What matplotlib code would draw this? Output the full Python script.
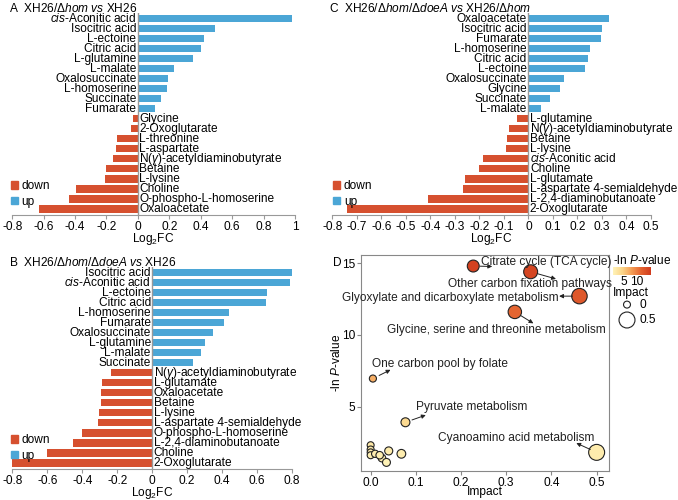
import matplotlib
matplotlib.use('Agg')
import matplotlib.pyplot as plt
from matplotlib.colors import LinearSegmentedColormap, Normalize
from matplotlib.patches import Patch
import matplotlib.cm as cm

plt.rcParams['font.family'] = ['Liberation Sans', 'DejaVu Sans']
plt.rcParams['mathtext.fontset'] = 'custom'
plt.rcParams['mathtext.rm'] = 'Liberation Sans'
plt.rcParams['mathtext.it'] = 'Liberation Sans:italic'

CIS = r'$\it{cis}$-Aconitic acid'
NG = r'N($\gamma$)-acetyldiaminobutyrate'

# panel A: XH26/dhom vs XH26
a_up_names = [CIS, 'Isocitric acid', 'L-ectoine', 'Citric acid', 'L-glutamine', 'L-malate',
              'Oxalosuccinate', 'L-homoserine', 'Succinate', 'Fumarate']
a_up_vals = [0.98, 0.49, 0.42, 0.40, 0.35, 0.23, 0.195, 0.185, 0.145, 0.11]
a_dn_names = ['Glycine', '2-Oxoglutarate', 'L-threonine', 'L-aspartate', NG, 'Betaine',
              'L-lysine', 'Choline', 'O-phospho-L-homoserine', 'Oxaloacetate']
a_dn_vals = [-0.034, -0.045, -0.13, -0.14, -0.16, -0.205, -0.21, -0.395, -0.44, -0.63]

# panel B: XH26/dhom/ddoeA vs XH26
b_up_names = ['Isocitric acid', CIS, 'L-ectoine', 'Citric acid', 'L-homoserine', 'Fumarate',
              'Oxalosuccinate', 'L-glutamine', 'L-malate', 'Succinate']
b_up_vals = [0.80, 0.79, 0.655, 0.65, 0.44, 0.41, 0.345, 0.30, 0.28, 0.235]
b_dn_names = [NG, 'L-glutamate', 'Oxaloacetate', 'Betaine', 'L-lysine', 'L-aspartate 4-semialdehyde',
              'O-phospho-L-homoserine', 'L-2,4-diaminobutanoate', 'Choline', '2-Oxoglutarate']
b_dn_vals = [-0.237, -0.285, -0.29, -0.295, -0.305, -0.31, -0.40, -0.45, -0.60, -0.80]

# panel C: XH26/dhom/ddoeA vs XH26/dhom
c_up_names = ['Oxaloacetate', 'Isocitric acid', 'Fumarate', 'L-homoserine', 'Citric acid', 'L-ectoine',
              'Oxalosuccinate', 'Glycine', 'Succinate', 'L-malate']
c_up_vals = [0.33, 0.30, 0.295, 0.25, 0.245, 0.23, 0.145, 0.13, 0.087, 0.053]
c_dn_names = ['L-glutamine', NG, 'Betaine', 'L-lysine', CIS, 'Choline', 'L-glutamate',
              'L-aspartate 4-semialdehyde', 'L-2,4-diaminobutanoate', '2-Oxoglutarate']
c_dn_vals = [-0.047, -0.077, -0.088, -0.092, -0.185, -0.203, -0.258, -0.266, -0.41, -0.74]

# panel D: pathway enrichment
d_impact = [0.227, 0.354, 0.462, 0.319, 0.005, 0.077, 0.5,
            0.0, 0.0, 0.0, 0.0, 0.01, 0.025, 0.035, 0.04, 0.068, 0.02]
d_lnp = [14.8, 14.4, 12.7, 11.6, 6.95, 3.9, 1.8,
         2.3, 2.0, 1.8, 1.6, 1.7, 1.4, 1.1, 1.9, 1.7, 1.6]
d_labels = ['Citrate cycle (TCA cycle)', 'Other carbon fixation pathways',
            'Glyoxylate and dicarboxylate metabolism', 'Glycine, serine and threonine metabolism',
            'One carbon pool by folate', 'Pyruvate metabolism', 'Cyanoamino acid metabolism']
d_text_xy = [(0.244, 15.1), (0.352, 13.58), (0.415, 12.6), (0.279, 10.35),
             (0.002, 7.97), (0.1, 5.0), (0.495, 2.83)]
d_text_ha = ['left', 'center', 'right', 'center', 'left', 'left', 'right']
d_arrow_end = [(0.269, 14.77), (0.41, 13.9), (0.417, 12.7), (0.36, 10.8),
               (0.044, 7.56), (0.122, 4.4), (0.455, 2.45)]

BLUE = '#4ba6d6'
RED = '#d6502f'
FS = 8.6

fig = plt.figure(figsize=(6.78, 5.0), dpi=100)


def bar_panel(rect, up_names, up_vals, dn_names, dn_vals, xlim, ticks, ticklabels,
              title, letter, leg_x):
    ax = fig.add_axes(rect)
    names = up_names + dn_names
    vals = up_vals + dn_vals
    ys = list(range(len(vals)))
    colors = [BLUE] * len(up_vals) + [RED] * len(dn_vals)
    ax.barh(ys, vals, height=0.72, color=colors)
    ax.set_ylim(len(vals) - 0.4, -0.6)
    ax.set_xlim(*xlim)
    ax.axvline(0, color='#999999', lw=1)
    for y, v, n in zip(ys, vals, names):
        if v > 0:
            ax.text(-0.005 * (xlim[1] - xlim[0]), y, n, ha='right', va='center', fontsize=FS)
        else:
            ax.text(0.005 * (xlim[1] - xlim[0]), y, n, ha='left', va='center', fontsize=FS)
    for s in ['top', 'left', 'right']:
        ax.spines[s].set_visible(False)
    ax.spines['bottom'].set_color('#999999')
    ax.set_yticks([])
    ax.set_xticks(ticks)
    ax.set_xticklabels(ticklabels, fontsize=FS)
    ax.tick_params(axis='x', length=3, pad=1, color='#999999')
    ax.set_xlabel(r'Log$_2$FC', fontsize=FS, labelpad=-1)
    ax.text(-0.01, 1.022, letter + '  ' + title, transform=ax.transAxes, fontsize=FS,
            ha='left', va='center')
    handles = [Patch(color=RED, label='down'), Patch(color=BLUE, label='up')]
    ax.legend(handles=handles, loc='lower left', bbox_to_anchor=(leg_x, 0.0), frameon=False,
              fontsize=FS, handlelength=0.6, handleheight=0.6, handletextpad=0.3,
              labelspacing=0.3, borderaxespad=0.2)
    return ax


ta = r'XH26/$\Delta\it{hom}$ $\it{vs}$ XH26'
tb = r'XH26/$\Delta\it{hom}$/$\Delta\it{doeA}$ $\it{vs}$ XH26'
tc = r'XH26/$\Delta\it{hom}$/$\Delta\it{doeA}$ $\it{vs}$ XH26/$\Delta\it{hom}$'

bar_panel([0.018, 0.57, 0.417, 0.405], a_up_names, a_up_vals, a_dn_names, a_dn_vals,
          (-0.8, 1.0), [-0.8, -0.6, -0.4, -0.2, 0, 0.2, 0.4, 0.6, 0.8, 1.0],
          ['-0.8', '-0.6', '-0.4', '-0.2', '0', '0.2', '0.4', '0.6', '0.8', '1'],
          ta, 'A', -0.03)
bar_panel([0.018, 0.062, 0.413, 0.405], b_up_names, b_up_vals, b_dn_names, b_dn_vals,
          (-0.8, 0.8), [-0.8, -0.6, -0.4, -0.2, 0, 0.2, 0.4, 0.6, 0.8],
          ['-0.8', '-0.6', '-0.4', '-0.2', '0', '0.2', '0.4', '0.6', '0.8'],
          tb, 'B', -0.03)
bar_panel([0.49, 0.57, 0.47, 0.405], c_up_names, c_up_vals, c_dn_names, c_dn_vals,
          (-0.8, 0.5), [-0.8, -0.7, -0.6, -0.5, -0.4, -0.3, -0.2, -0.1, 0, 0.1, 0.2, 0.3, 0.4, 0.5],
          ['-0.8', '-0.7', '-0.6', '-0.5', '-0.4', '-0.3', '-0.2', '-0.1', '0',
           '0.1', '0.2', '0.3', '0.4', '0.5'],
          tc, 'C', -0.02)

# panel D
cmap = LinearSegmentedColormap.from_list('yor', ['#fff3b8', '#fbd487', '#f39a52', '#e3612f', '#cf3a1d'])
norm = Normalize(vmin=1, vmax=15.5)
axD = fig.add_axes([0.532, 0.058, 0.366, 0.432])
sizes = [25 + 214 * i for i in d_impact]
axD.scatter(d_impact, d_lnp, s=sizes, c=d_lnp, cmap=cmap, norm=norm,
            edgecolors='#222222', linewidths=0.8, zorder=3)
for i, lab in enumerate(d_labels):
    axD.text(d_text_xy[i][0], d_text_xy[i][1], lab, ha=d_text_ha[i], va='center',
             fontsize=FS, color='#222222')
    axD.annotate('', xy=d_arrow_end[i], xytext=(d_impact[i], d_lnp[i]),
                 arrowprops=dict(arrowstyle='-|>', color='#222222', lw=0.7,
                                 mutation_scale=6, shrinkA=5, shrinkB=0))
axD.set_xlim(-0.022, 0.527)
axD.set_ylim(0.5, 15.57)
axD.set_xticks([0, 0.1, 0.2, 0.3, 0.4, 0.5])
axD.set_xticklabels(['0.0', '0.1', '0.2', '0.3', '0.4', '0.5'], fontsize=FS)
axD.set_yticks([5, 10, 15])
axD.set_yticklabels(['5', '10', '15'], fontsize=FS)
axD.tick_params(length=3, pad=1, color='#888888')
for s in axD.spines.values():
    s.set_color('#888888')
axD.set_xlabel('Impact', fontsize=FS, labelpad=-2)
axD.set_ylabel(r'-ln $\it{P}$-value', fontsize=FS, labelpad=-1)
fig.text(333 / 678, 1 - 263 / 500, 'D', fontsize=FS, ha='left', va='center')

# colour legend
cax = fig.add_axes([613 / 678, 1 - 275 / 500, 38 / 678, 8 / 500])
cb = fig.colorbar(cm.ScalarMappable(norm=norm, cmap=cmap), cax=cax, orientation='horizontal')
cb.outline.set_visible(False)
cb.set_ticks([5, 10])
cax.tick_params(labelsize=FS, length=0, pad=1)
fig.text(613 / 678, 1 - 261 / 500, r'-ln $\it{P}$-value', fontsize=FS, ha='left', va='center')
fig.text(613 / 678, 1 - 293 / 500, 'Impact', fontsize=FS, ha='left', va='center')
lax = fig.add_axes([612 / 678, 1 - 327 / 500, 50 / 678, 28 / 500])
lax.axis('off')
lax.set_xlim(0, 1)
lax.set_ylim(0, 1)
lax.scatter([0.3, 0.3], [0.8, 0.25], s=[25, 25 + 214 * 0.5], facecolors='white',
            edgecolors='#222222', linewidths=0.8, clip_on=False)
lax.text(0.55, 0.8, '0', fontsize=FS, va='center')
lax.text(0.55, 0.25, '0.5', fontsize=FS, va='center')

fig.savefig('out.png', dpi=100)
